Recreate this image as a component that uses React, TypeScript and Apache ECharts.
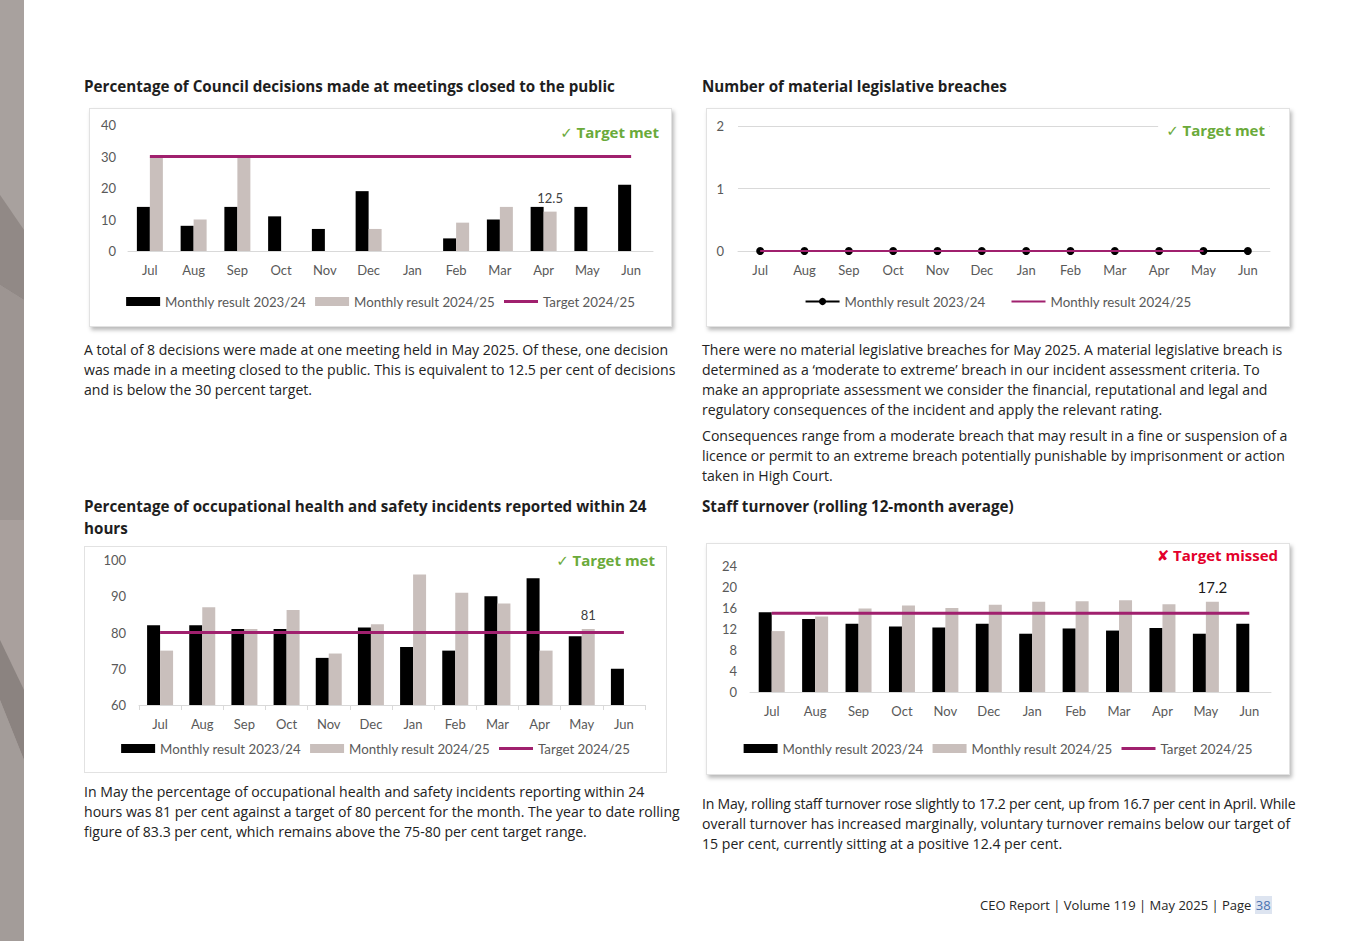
import React, { useEffect, useRef } from 'react';
import * as echarts from 'echarts';

// ---------- DATA ----------
const months = ['Jul', 'Aug', 'Sep', 'Oct', 'Nov', 'Dec', 'Jan', 'Feb', 'Mar', 'Apr', 'May', 'Jun'];
const prevName = 'Monthly result 2023/24';
const currName = 'Monthly result 2024/25';
const targetName = 'Target 2024/25';

// Chart 1: % of Council decisions made at closed meetings
const closedPrev = [14, 8, 14, 11, 7, 19, 0, 4, 10, 14, 14, 21];
const closedCurr = [30, 10, 30, 0, 0, 7, 0, 9, 14, 12.5, null, null];
const closedTarget = [30, 30, 30, 30, 30, 30, 30, 30, 30, 30, 30, 30];
const closedLabelMonth = 'Apr';
const closedTicks = [0, 10, 20, 30, 40];

// Chart 2: material legislative breaches
const breachPrev = [0, 0, 0, 0, 0, 0, 0, 0, 0, 0, 0, 0];
const breachCurr = [0, 0, 0, 0, 0, 0, 0, 0, 0, 0, 0, null];
const breachTicks = [0, 1, 2];

// Chart 3: OHS incidents reported within 24 hours (%)
const ohsPrev = [82, 82, 81, 81, 73, 81.4, 76, 75, 90, 95, 79, 70];
const ohsCurr = [75, 87, 81, 86.2, 74.2, 82.3, 96, 91, 88, 75, 81, null];
const ohsTarget = [80, 80, 80, 80, 80, 80, 80, 80, 80, 80, 80, 80];
const ohsLabelMonth = 'May';
const ohsTicks = [60, 70, 80, 90, 100];

// Chart 4: staff turnover (rolling 12-month average)
const turnPrev = [15.2, 13.9, 13.0, 12.5, 12.3, 13.0, 11.1, 12.1, 11.7, 12.2, 11.1, 13.0];
const turnCurr = [11.6, 14.4, 15.9, 16.5, 16.0, 16.6, 17.2, 17.3, 17.5, 16.7, 17.2, null];
const turnTarget = [15, 15, 15, 15, 15, 15, 15, 15, 15, 15, 15, 15];
const turnLabelMonth = 'May';
const turnTicks = [0, 4, 8, 12, 16, 20, 24];

// ---------- STYLE ----------
const BLACK = '#000000';
const GREY = '#c9bfbc';
const PURPLE = '#a0206e';
const AXIS_TEXT = '#595959';
const AXIS_LINE = '#d9d9d9';
const GREEN = '#6aaa3a';
const RED = '#e3002b';
const CHART_FONT = "Lato, 'Open Sans', sans-serif";
const STATUS_FONT = "'Open Sans', 'DejaVu Sans', sans-serif";
const TEXT_FONT = "'Open Sans', 'Noto Sans', sans-serif";
const LINE_ICON_3 = 'path://M0,0 L34,0 L34,3 L0,3 Z';
const LINE_ICON_2 = 'path://M0,0 L34,0 L34,2 L0,2 Z';

type BarCfg = {
  prev: number[];
  curr: (number | null)[];
  target: number[];
  ticks: number[];
  labelMonth: string;
  labelSize: number;
  labelColor: string;
  grid: { left: number; top: number; width: number; height: number };
  yMargin: number;
  xTicks: boolean;
  legendTop: number;
  status: { text: string; color: string; x: number; y: number };
};

function statusGraphic(s: { text: string; color: string; x: number; y: number }) {
  return [
    {
      type: 'text',
      x: s.x,
      y: s.y,
      z: 100,
      style: {
        text: s.text,
        fill: s.color,
        font: `bold 15px ${STATUS_FONT}`,
        textAlign: 'right',
        textVerticalAlign: 'middle',
        align: 'right',
        verticalAlign: 'middle',
        backgroundColor: '#ffffff',
        padding: [0, 4, 0, 8],
      },
    },
  ];
}

function barOption(c: BarCfg) {
  const li = months.indexOf(c.labelMonth);
  const currData = c.curr.map((v, i) =>
    i === li
      ? {
          value: v,
          label: {
            show: true,
            position: 'top',
            distance: 7,
            color: c.labelColor,
            fontSize: c.labelSize,
            fontFamily: CHART_FONT,
          },
        }
      : v
  );
  return {
    animation: false,
    grid: { ...c.grid, containLabel: false },
    xAxis: {
      type: 'category',
      data: months,
      axisLine: { show: true, lineStyle: { color: AXIS_LINE, width: 1 } },
      axisTick: { show: c.xTicks, length: 5, lineStyle: { color: AXIS_LINE } },
      axisLabel: { color: AXIS_TEXT, fontSize: 13, fontFamily: CHART_FONT, margin: 12 },
    },
    yAxis: {
      type: 'value',
      min: c.ticks[0],
      max: c.ticks[c.ticks.length - 1],
      interval: c.ticks[1] - c.ticks[0],
      axisLine: { show: false },
      axisTick: { show: false },
      splitLine: { show: false },
      axisLabel: { color: AXIS_TEXT, fontSize: 13, fontFamily: CHART_FONT, margin: c.yMargin },
    },
    legend: {
      top: c.legendTop,
      left: 'center',
      padding: 0,
      itemWidth: 34,
      itemHeight: 9,
      itemGap: 9,
      textStyle: { color: AXIS_TEXT, fontSize: 13.3, fontFamily: CHART_FONT },
      data: [
        { name: prevName, icon: 'rect' },
        { name: currName, icon: 'rect' },
        { name: targetName, icon: LINE_ICON_3 },
      ],
    },
    graphic: statusGraphic(c.status),
    series: [
      {
        type: 'bar',
        name: prevName,
        data: c.prev,
        barWidth: 13,
        barGap: '0%',
        itemStyle: { color: BLACK },
      },
      {
        type: 'bar',
        name: currName,
        data: currData,
        barWidth: 13,
        barGap: '0%',
        itemStyle: { color: GREY },
      },
      {
        type: 'line',
        name: targetName,
        data: c.target,
        symbol: 'none',
        z: 5,
        lineStyle: { color: PURPLE, width: 3 },
        itemStyle: { color: PURPLE },
      },
    ],
  };
}

const option1 = barOption({
  prev: closedPrev,
  curr: closedCurr,
  target: closedTarget,
  ticks: closedTicks,
  labelMonth: closedLabelMonth,
  labelSize: 13,
  labelColor: '#404040',
  grid: { left: 38, top: 16, width: 525, height: 126 },
  yMargin: 12,
  xTicks: false,
  legendTop: 186,
  status: { text: '✓ Target met', color: GREEN, x: 573, y: 23 },
});

const option3 = barOption({
  prev: ohsPrev,
  curr: ohsCurr,
  target: ohsTarget,
  ticks: ohsTicks,
  labelMonth: ohsLabelMonth,
  labelSize: 13,
  labelColor: '#404040',
  grid: { left: 54, top: 13, width: 506, height: 145 },
  yMargin: 13,
  xTicks: true,
  legendTop: 195,
  status: { text: '✓ Target met', color: GREEN, x: 574, y: 13 },
});

const option4 = barOption({
  prev: turnPrev,
  curr: turnCurr,
  target: turnTarget,
  ticks: turnTicks,
  labelMonth: turnLabelMonth,
  labelSize: 15,
  labelColor: '#1a1a1a',
  grid: { left: 43, top: 22, width: 521, height: 126 },
  yMargin: 13,
  xTicks: false,
  legendTop: 198,
  status: { text: '✘ Target missed', color: RED, x: 575, y: 11 },
});

const option2 = {
  animation: false,
  grid: { left: 31, top: 17, width: 532, height: 125 },
  xAxis: {
    type: 'category',
    data: months,
    axisLine: { show: true, lineStyle: { color: AXIS_LINE } },
    axisTick: { show: false },
    axisLabel: { color: AXIS_TEXT, fontSize: 13, fontFamily: CHART_FONT, margin: 12 },
  },
  yAxis: {
    type: 'value',
    min: breachTicks[0],
    max: breachTicks[breachTicks.length - 1],
    interval: breachTicks[1] - breachTicks[0],
    axisLine: { show: false },
    axisTick: { show: false },
    splitLine: { show: true, lineStyle: { color: AXIS_LINE, width: 1 } },
    axisLabel: { color: AXIS_TEXT, fontSize: 13, fontFamily: CHART_FONT, margin: 14 },
  },
  legend: {
    top: 186,
    left: 'center',
    padding: 0,
    itemWidth: 34,
    itemHeight: 9,
    itemGap: 26,
    textStyle: { color: AXIS_TEXT, fontSize: 13.3, fontFamily: CHART_FONT },
    data: [{ name: prevName }, { name: currName, icon: LINE_ICON_2 }],
  },
  graphic: statusGraphic({ text: '✓ Target met', color: GREEN, x: 562, y: 21 }),
  series: [
    {
      type: 'line',
      name: prevName,
      data: breachPrev,
      symbol: 'circle',
      symbolSize: 8,
      lineStyle: { color: BLACK, width: 2 },
      itemStyle: { color: BLACK },
    },
    {
      type: 'line',
      name: currName,
      data: breachCurr,
      symbol: 'none',
      z: 5,
      lineStyle: { color: PURPLE, width: 2 },
      itemStyle: { color: PURPLE },
    },
  ],
};

// ---------- COMPONENTS ----------
function ChartBox(props: {
  option: any;
  left: number;
  top: number;
  width: number;
  height: number;
  shadow: boolean;
}) {
  const ref = useRef<HTMLDivElement>(null);
  useEffect(() => {
    const chart = echarts.init(ref.current as HTMLDivElement, null, { renderer: 'svg' });
    chart.setOption(props.option);
    return () => chart.dispose();
  }, []);
  return (
    <div
      style={{
        position: 'absolute',
        left: props.left,
        top: props.top,
        width: props.width,
        height: props.height,
        boxSizing: 'border-box',
        border: '1px solid #e2e2e2',
        background: '#fff',
        boxShadow: props.shadow ? '2px 3px 4px rgba(0,0,0,0.28)' : 'none',
      }}
    >
      <div ref={ref} style={{ width: props.width - 2, height: props.height - 2 }} />
    </div>
  );
}

const titleStyle: React.CSSProperties = {
  position: 'absolute',
  fontFamily: TEXT_FONT,
  fontWeight: 700,
  fontSize: 15.2,
  color: '#1e1e1e',
  whiteSpace: 'nowrap',
  lineHeight: '22px',
};

const paraStyle: React.CSSProperties = {
  position: 'absolute',
  fontFamily: TEXT_FONT,
  fontSize: 14.1,
  color: '#222222',
  whiteSpace: 'nowrap',
  lineHeight: '20px',
};

function LeftStrip() {
  return (
    <svg width={24} height={941} style={{ position: 'absolute', left: 0, top: 0 }}>
      <rect x={0} y={0} width={24} height={941} fill="#a39c99" />
      <polygon points="0,0 24,0 24,230 0,195" fill="#a8a19e" />
      <polygon points="0,195 24,230 24,300 0,285" fill="#918986" />
      <polygon points="0,285 24,300 24,520 0,520" fill="#9d9592" />
      <polygon points="0,520 24,520 24,690 0,640" fill="#a9a09d" />
      <polygon points="0,640 24,690 24,760 0,700" fill="#8b8380" />
      <polygon points="0,700 24,760 24,941 0,941" fill="#a39c99" />
    </svg>
  );
}

export default function App() {
  return (
    <div
      style={{
        position: 'absolute',
        left: 0,
        top: 0,
        width: 1347,
        height: 941,
        background: '#ffffff',
        overflow: 'hidden',
      }}
    >
      <LeftStrip />

      <div style={{ ...titleStyle, left: 84, top: 75 }}>
        Percentage of Council decisions made at meetings closed to the public
      </div>
      <div style={{ ...titleStyle, left: 702, top: 75 }}>Number of material legislative breaches</div>

      <ChartBox option={option1} left={89} top={108} width={583} height={219} shadow={true} />
      <ChartBox option={option2} left={706} top={108} width={584} height={219} shadow={true} />

      <div style={{ ...paraStyle, left: 84, top: 340 }}>
        A total of 8 decisions were made at one meeting held in May 2025. Of these, one decision
        <br />
        was made in a meeting closed to the public. This is equivalent to 12.5 per cent of decisions
        <br />
        and is below the 30 percent target.
      </div>

      <div style={{ ...paraStyle, left: 702, top: 340 }}>
        There were no material legislative breaches for May 2025. A material legislative breach is
        <br />
        determined as a ‘moderate to extreme’ breach in our incident assessment criteria. To
        <br />
        make an appropriate assessment we consider the financial, reputational and legal and
        <br />
        regulatory consequences of the incident and apply the relevant rating.
      </div>
      <div style={{ ...paraStyle, left: 702, top: 426 }}>
        Consequences range from a moderate breach that may result in a fine or suspension of a
        <br />
        licence or permit to an extreme breach potentially punishable by imprisonment or action
        <br />
        taken in High Court.
      </div>

      <div style={{ ...titleStyle, left: 84, top: 495 }}>
        Percentage of occupational health and safety incidents reported within 24
        <br />
        hours
      </div>
      <div style={{ ...titleStyle, left: 702, top: 495 }}>Staff turnover (rolling 12-month average)</div>

      <ChartBox option={option3} left={84} top={546} width={583} height={227} shadow={false} />
      <ChartBox option={option4} left={706} top={543} width={584} height={232} shadow={true} />

      <div style={{ ...paraStyle, left: 84, top: 782 }}>
        In May the percentage of occupational health and safety incidents reporting within 24
        <br />
        hours was 81 per cent against a target of 80 percent for the month. The year to date rolling
        <br />
        figure of 83.3 per cent, which remains above the 75-80 per cent target range.
      </div>

      <div style={{ ...paraStyle, left: 702, top: 794 }}>
        <span style={{ letterSpacing: '-0.25px' }}>
          In May, rolling staff turnover rose slightly to 17.2 per cent, up from 16.7 per cent in April. While
        </span>
        <br />
        overall turnover has increased marginally, voluntary turnover remains below our target of
        <br />
        15 per cent, currently sitting at a positive 12.4 per cent.
      </div>

      <div style={{ ...paraStyle, left: 980, top: 895, fontSize: 13, color: '#262626' }}>
        CEO Report | Volume 119 | May 2025 | Page{' '}
        <span style={{ background: '#dde4f0', color: '#4a72b0', padding: '0 1px' }}>38</span>
      </div>
    </div>
  );
}
